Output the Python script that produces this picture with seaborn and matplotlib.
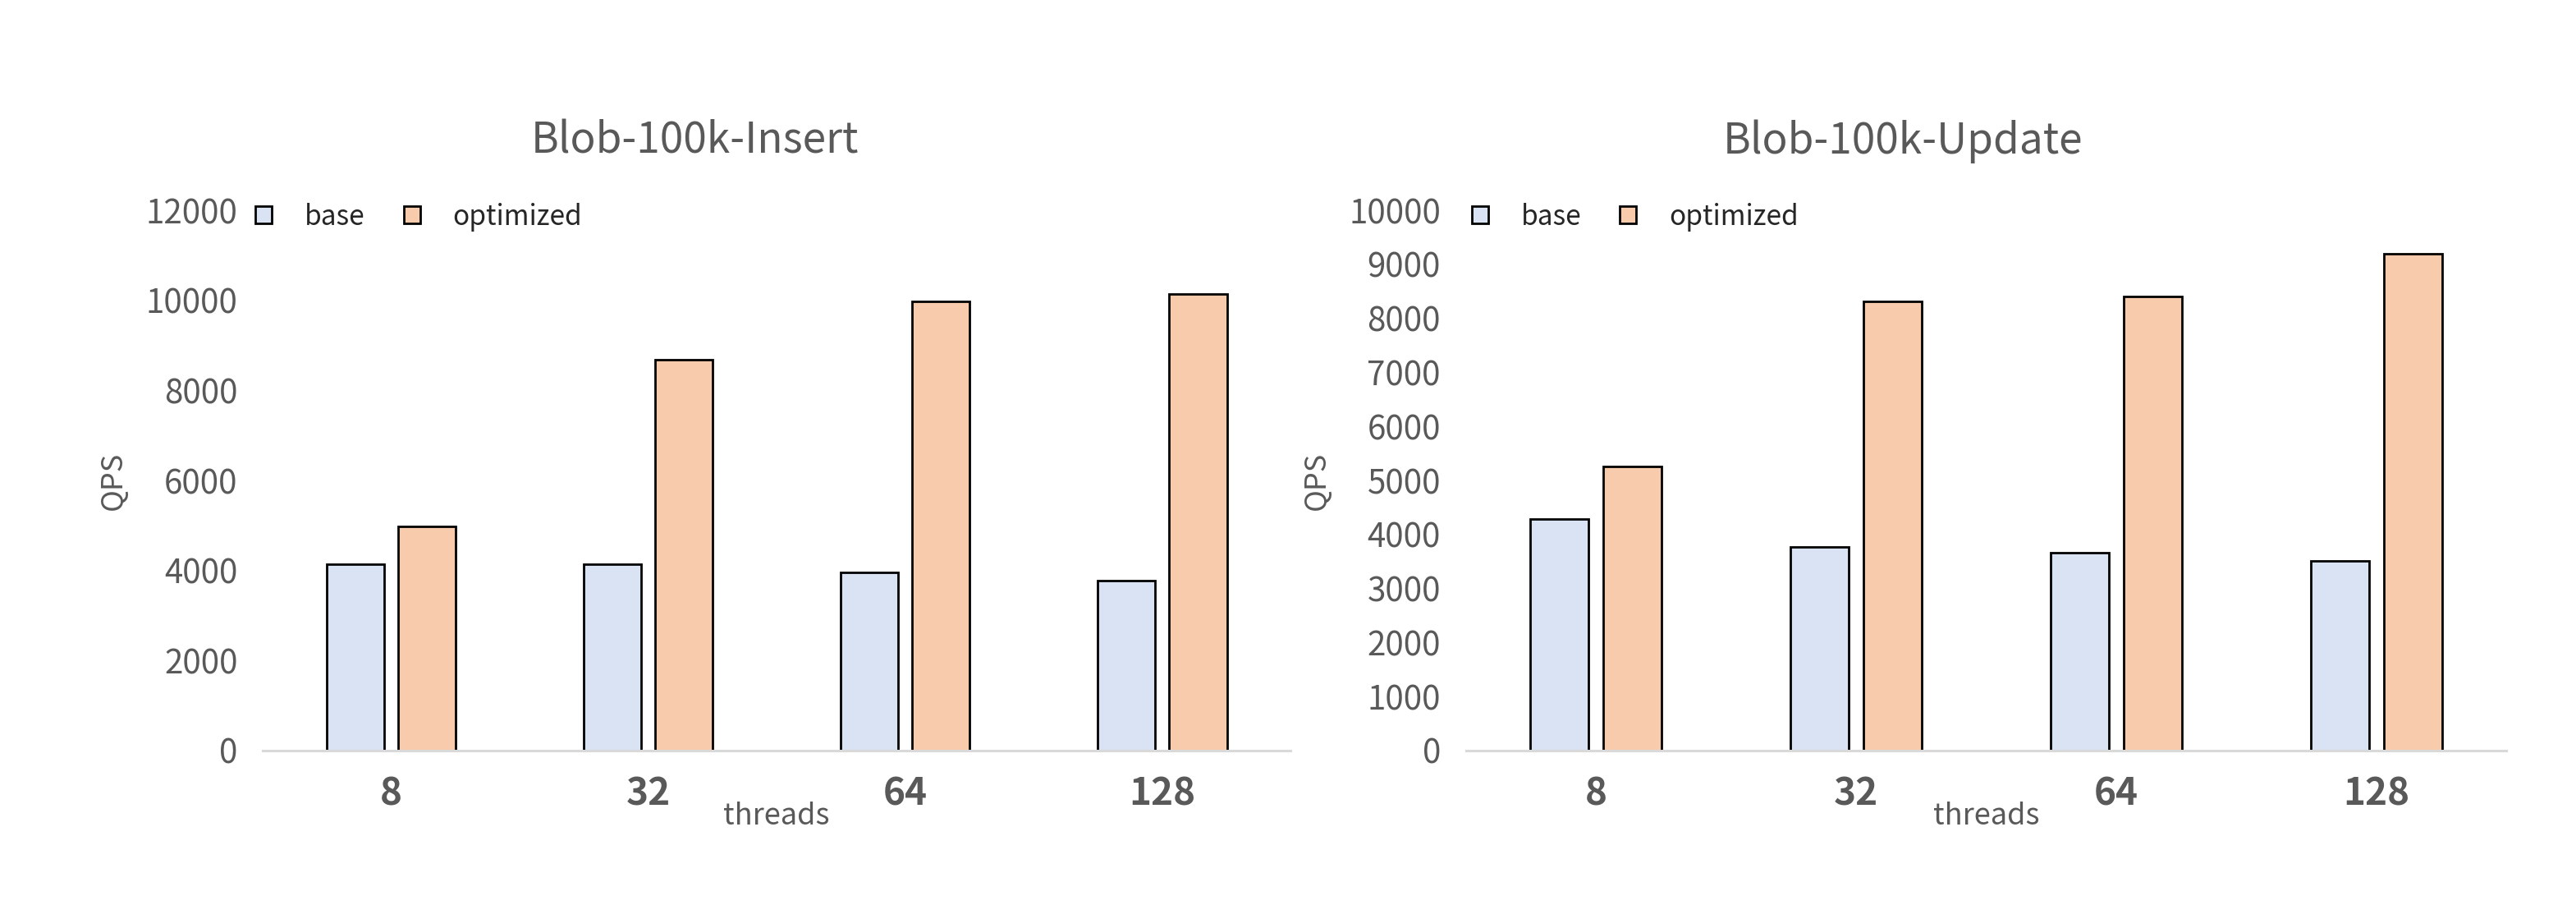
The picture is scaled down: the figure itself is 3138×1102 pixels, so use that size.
import pandas as pd
import matplotlib
matplotlib.use("Agg")
import matplotlib.pyplot as plt
import seaborn as sns

threads = ["8", "32", "64", "128"]
series = ["base", "optimized"]
insert_base = [4140, 4140, 3960, 3775]
insert_opt = [4980, 8680, 9980, 10140]
update_base = [4290, 3770, 3660, 3510]
update_opt = [5260, 8310, 8400, 9190]
titles = ["Blob-100k-Insert", "Blob-100k-Update"]
yticks_insert = list(range(0, 12001, 2000))
yticks_update = list(range(0, 10001, 1000))

colors = {"base": "#DAE3F3", "optimized": "#F8CBAD"}
gray = "#595959"

sns.set_style("white")
plt.rcParams['font.family'] = ['Noto Sans CJK SC', 'DejaVu Sans']


def make_df(base, opt):
    rows = []
    for t, b, o in zip(threads, base, opt):
        rows.append({"threads": t, "series": "base", "QPS": b})
        rows.append({"threads": t, "series": "optimized", "QPS": o})
    return pd.DataFrame(rows)


fig = plt.figure(figsize=(31.38, 11.02), dpi=100)
ax1 = fig.add_axes([0.102, 0.1706, 0.399, 0.597])
ax2 = fig.add_axes([0.569, 0.1706, 0.404, 0.597])

panels = [
    (ax1, make_df(insert_base, insert_opt), yticks_insert, titles[0], -0.131, -0.031),
    (ax2, make_df(update_base, update_opt), yticks_update, titles[1], -0.129, -0.018),
]

for ax, df, yt, title, ylx, legx in panels:
    sns.barplot(data=df, x="threads", y="QPS", hue="series", order=threads,
                hue_order=series, palette=colors, width=0.56, gap=0.2,
                edgecolor="black", linewidth=2.0, saturation=1, ax=ax)
    ax.set_ylim(0, yt[-1])
    ax.set_xlim(-0.5, 3.5)
    ax.set_yticks(yt)
    ax.set_yticklabels([str(v) for v in yt], fontsize=29, color=gray)
    ax.set_xticks(range(len(threads)))
    ax.set_xticklabels(threads, fontsize=33, fontweight="bold", color=gray)
    ax.tick_params(axis="both", length=0)
    ax.tick_params(axis="x", pad=22)
    ax.tick_params(axis="y", pad=22)
    for s in ["top", "right", "left"]:
        ax.spines[s].set_visible(False)
    ax.spines["bottom"].set_color("#D9D9D9")
    ax.spines["bottom"].set_linewidth(2.2)
    ax.set_title(title, fontsize=37, color=gray, pad=50, x=0.42)
    ax.set_xlabel("threads", fontsize=26, color=gray)
    ax.xaxis.set_label_coords(0.5, -0.094)
    ax.set_ylabel("QPS", fontsize=26, color=gray)
    ax.yaxis.set_label_coords(ylx, 0.5)
    ax.legend(loc="upper left", bbox_to_anchor=(legx, 1.06), ncol=2,
              frameon=False, fontsize=24, handlelength=0.6, handleheight=0.6,
              handletextpad=1.2, columnspacing=1.4, title=None)

fig.savefig("out.png", dpi=100, facecolor="white")
